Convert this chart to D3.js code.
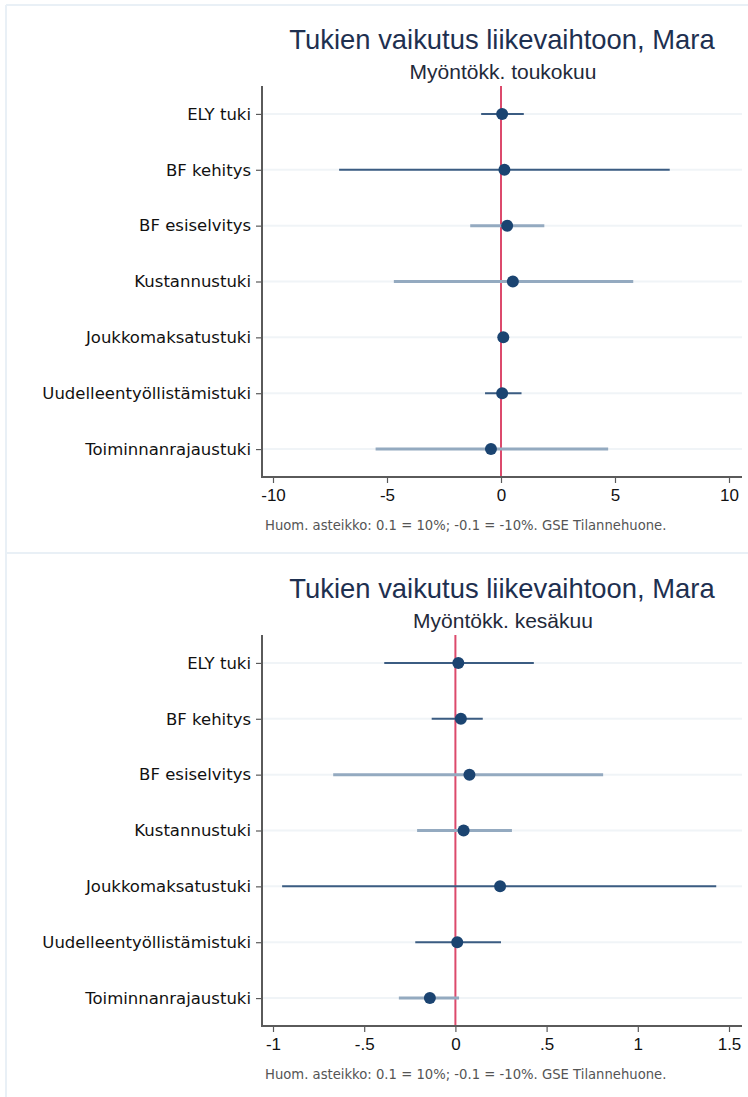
<!DOCTYPE html>
<html>
<head>
<meta charset="utf-8">
<script src="https://cdn.jsdelivr.net/npm/d3@7"></script>
<style>
  html, body { margin: 0; padding: 0; background: #ffffff; }
  svg { display: block; }
</style>
</head>
<body>
<svg id="chart" width="748" height="1097"></svg>
<script>
// ---------------- DATA ----------------
const categories = [
  "ELY tuki",
  "BF kehitys",
  "BF esiselvitys",
  "Kustannustuki",
  "Joukkomaksatustuki",
  "Uudelleentyöllistämistuki",
  "Toiminnanrajaustuki"
];

const chartTitle = "Tukien vaikutus liikevaihtoon, Mara";
const noteText = "Huom. asteikko: 0.1 = 10%; -0.1 = -10%. GSE Tilannehuone.";

// Panel 1: Myöntökk. toukokuu
const subtitleTop = "Myöntökk. toukokuu";
const estimateTop = [0.05, 0.15, 0.27, 0.52, 0.10, 0.05, -0.44];
const lowerTop    = [-0.87, -7.10, -1.35, -4.70, -0.05, -0.70, -5.50];
const upperTop    = [1.00, 7.40, 1.90, 5.80, 0.25, 0.90, 4.70];
const ticksTop      = [-10, -5, 0, 5, 10];
const tickLabelsTop = ["-10", "-5", "0", "5", "10"];
const domainTop     = [-10, 10];
const ciGroupTop    = ["a", "a", "b", "b", "a", "a", "b"];

// Panel 2: Myöntökk. kesäkuu
const subtitleBottom = "Myöntökk. kesäkuu";
const estimateBottom = [0.016, 0.03, 0.077, 0.045, 0.245, 0.01, -0.14];
const lowerBottom    = [-0.39, -0.13, -0.67, -0.21, -0.95, -0.22, -0.31];
const upperBottom    = [0.43, 0.15, 0.81, 0.31, 1.43, 0.25, 0.02];
const ticksBottom      = [-1, -0.5, 0, 0.5, 1, 1.5];
const tickLabelsBottom = ["-1", "-.5", "0", ".5", "1", "1.5"];
const domainBottom     = [-1, 1.5];
const ciGroupBottom    = ["a", "a", "b", "b", "a", "a", "b"];

// ---------------- STYLE ----------------
const ciColor = { a: "#3b5c82", b: "#94aac0" };
const ciWidth = { a: 2, b: 3 };
const pointColor = "#1b4471";
const zeroColor = "#dc4a6c";
const axisColor = "#5a5a5a";
const gridColor = "#f0f4f7";
const frameColor = "#e9f0f6";

const svg = d3.select("#chart");

// frame lines
svg.append("line").attr("x1", 6).attr("x2", 6).attr("y1", 5).attr("y2", 1097)
  .attr("stroke", frameColor).attr("stroke-width", 2);
svg.append("line").attr("x1", 6).attr("x2", 748).attr("y1", 5).attr("y2", 5)
  .attr("stroke", frameColor).attr("stroke-width", 2);
svg.append("line").attr("x1", 6).attr("x2", 748).attr("y1", 553).attr("y2", 553)
  .attr("stroke", frameColor).attr("stroke-width", 2);

function drawPanel(offsetY, subtitle, est, lo, hi, ticks, tickLabels, domain, ciGroup) {
  const g = svg.append("g").attr("transform", `translate(0,${offsetY})`);
  const plotLeft = 262, plotRight = 742, plotTop = 86, plotBottom = 477;

  const x = d3.scaleLinear().domain(domain).range([273, 729]);
  const y = d3.scalePoint().domain(categories).range([plotTop, plotBottom]).padding(0.5);

  // title & subtitle
  g.append("text").attr("x", 502).attr("y", 49).attr("text-anchor", "middle")
    .attr("font-family", "'Liberation Sans', Arial, sans-serif").attr("font-size", 27.4)
    .attr("fill", "#1e3050").text(chartTitle);
  g.append("text").attr("x", 503).attr("y", 79).attr("text-anchor", "middle")
    .attr("font-family", "'Liberation Sans', Arial, sans-serif").attr("font-size", 21)
    .attr("fill", "#1f2a3a").text(subtitle);

  // grid lines
  g.append("g").selectAll("line").data(categories).join("line")
    .attr("x1", plotLeft).attr("x2", plotRight)
    .attr("y1", d => y(d)).attr("y2", d => y(d))
    .attr("stroke", gridColor).attr("stroke-width", 2);

  // zero line
  g.append("line").attr("x1", x(0)).attr("x2", x(0))
    .attr("y1", plotTop).attr("y2", plotBottom)
    .attr("stroke", zeroColor).attr("stroke-width", 2);

  // CIs
  g.append("g").selectAll("line").data(categories).join("line")
    .attr("x1", (d, i) => x(lo[i])).attr("x2", (d, i) => x(hi[i]))
    .attr("y1", d => y(d)).attr("y2", d => y(d))
    .attr("stroke", (d, i) => ciColor[ciGroup[i]])
    .attr("stroke-width", (d, i) => ciWidth[ciGroup[i]]);

  // points
  g.append("g").selectAll("circle").data(categories).join("circle")
    .attr("cx", (d, i) => x(est[i])).attr("cy", d => y(d)).attr("r", 6)
    .attr("fill", pointColor);

  // y axis
  const yAxis = d3.axisLeft(y).tickSize(6).tickPadding(5).tickSizeOuter(0);
  const ya = g.append("g").attr("transform", `translate(${plotLeft},0)`).call(yAxis);
  ya.select(".domain").remove();
  ya.selectAll(".tick line").attr("stroke", axisColor).attr("stroke-width", 1.2);
  ya.selectAll(".tick text").attr("font-family", "'DejaVu Sans', Verdana, sans-serif")
    .attr("font-size", 16.5).attr("fill", "#111");
  g.append("line").attr("x1", plotLeft).attr("x2", plotLeft).attr("y1", plotTop).attr("y2", plotBottom + 1)
    .attr("stroke", axisColor).attr("stroke-width", 2);

  // x axis
  const xAxis = d3.axisBottom(x).tickValues(ticks).tickSize(6).tickPadding(6)
    .tickFormat((d, i) => tickLabels[i]);
  const xa = g.append("g").attr("transform", `translate(0,${plotBottom})`).call(xAxis);
  xa.select(".domain").remove();
  xa.selectAll(".tick line").attr("stroke", axisColor).attr("stroke-width", 1.2);
  xa.selectAll(".tick text").attr("font-family", "'Liberation Sans', Arial, sans-serif")
    .attr("font-size", 17).attr("fill", "#111");
  g.append("line").attr("x1", plotLeft - 1).attr("x2", plotRight).attr("y1", plotBottom).attr("y2", plotBottom)
    .attr("stroke", axisColor).attr("stroke-width", 2);

  // note
  g.append("text").attr("x", 265).attr("y", 529.5)
    .attr("font-family", "'DejaVu Sans', Verdana, sans-serif").attr("font-size", 13.2)
    .attr("fill", "#555").text(noteText);
}

drawPanel(0, subtitleTop, estimateTop, lowerTop, upperTop, ticksTop, tickLabelsTop, domainTop, ciGroupTop);
drawPanel(549, subtitleBottom, estimateBottom, lowerBottom, upperBottom, ticksBottom, tickLabelsBottom, domainBottom, ciGroupBottom);
</script>
</body>
</html>
